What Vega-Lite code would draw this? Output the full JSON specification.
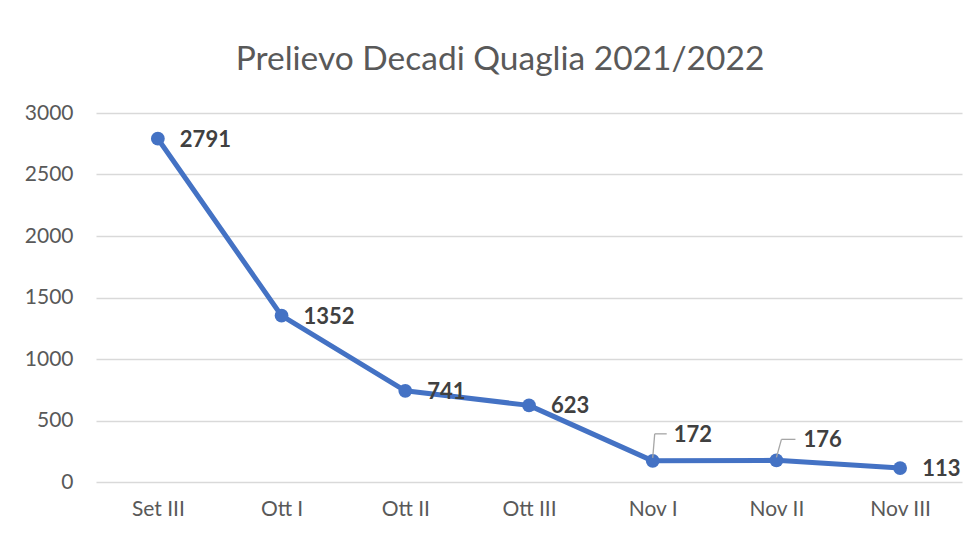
{
  "$schema": "https://vega.github.io/schema/vega-lite/v6.json",
  "width": 866,
  "height": 369,
  "autosize": "none",
  "padding": {"left": 96, "top": 113, "right": 16, "bottom": 57},
  "background": "white",
  "title": {
    "text": "Prelievo Decadi Quaglia 2021/2022",
    "font": "Lato",
    "fontSize": 33.5,
    "fontWeight": "normal",
    "color": "#595959",
    "anchor": "middle",
    "frame": "group",
    "baseline": "alphabetic",
    "offset": -1,
    "dx": -29
  },
  "config": {
    "view": {"stroke": null},
    "font": "Lato"
  },
  "data": {
    "values": [
      {"cat": "Set III", "v": 2791},
      {"cat": "Ott I", "v": 1352},
      {"cat": "Ott II", "v": 741},
      {"cat": "Ott III", "v": 623},
      {"cat": "Nov I", "v": 172},
      {"cat": "Nov II", "v": 176},
      {"cat": "Nov III", "v": 113}
    ]
  },
  "encoding": {
    "x": {
      "field": "cat",
      "type": "nominal",
      "sort": null,
      "scale": {"type": "point", "padding": 0.5},
      "axis": {
        "title": null,
        "labelAngle": 0,
        "domain": false,
        "ticks": false,
        "grid": false,
        "labelFont": "Lato",
        "labelFontSize": 21,
        "labelColor": "#595959",
        "labelPadding": 16
      }
    },
    "y": {
      "field": "v",
      "type": "quantitative",
      "scale": {"domain": [0, 3000], "nice": false},
      "axis": {
        "title": null,
        "format": "d",
        "values": [0, 500, 1000, 1500, 2000, 2500, 3000],
        "domain": false,
        "ticks": false,
        "grid": true,
        "gridColor": "#D9D9D9",
        "gridWidth": 1.3,
        "labelFont": "Lato",
        "labelFontSize": 21,
        "labelColor": "#595959",
        "labelPadding": 23
      }
    }
  },
  "layer": [
    {
      "mark": {"type": "line", "color": "#4472C4", "strokeWidth": 5, "strokeCap": "round", "strokeJoin": "round"}
    },
    {
      "mark": {"type": "point", "filled": true, "opacity": 1, "color": "#4472C4", "size": 190}
    },
    {
      "transform": [{"filter": "datum.cat != 'Nov I' && datum.cat != 'Nov II'"}],
      "mark": {"type": "text", "align": "left", "baseline": "middle", "dx": 22, "dy": 1, "font": "Lato", "fontSize": 22, "fontWeight": "bold", "color": "#404040"},
      "encoding": {"text": {"field": "v", "type": "quantitative"}}
    },
    {
      "transform": [{"filter": "datum.cat == 'Nov I'"}],
      "mark": {"type": "text", "align": "left", "baseline": "middle", "dx": 21, "dy": -26, "font": "Lato", "fontSize": 22, "fontWeight": "bold", "color": "#404040"},
      "encoding": {"text": {"field": "v", "type": "quantitative"}}
    },
    {
      "transform": [{"filter": "datum.cat == 'Nov II'"}],
      "mark": {"type": "text", "align": "left", "baseline": "middle", "dx": 27, "dy": -20, "font": "Lato", "fontSize": 22, "fontWeight": "bold", "color": "#404040"},
      "encoding": {"text": {"field": "v", "type": "quantitative"}}
    },
    {
      "transform": [{"filter": "datum.cat == 'Nov I'"}],
      "mark": {"type": "rule", "color": "#A6A6A6", "strokeWidth": 1.3, "yOffset": -3, "y2Offset": -27, "x2Offset": 2},
      "encoding": {"x2": {"field": "cat"}, "y2": {"field": "v"}}
    },
    {
      "transform": [{"filter": "datum.cat == 'Nov I'"}],
      "mark": {"type": "rule", "color": "#A6A6A6", "strokeWidth": 1.3, "xOffset": 2, "x2Offset": 14, "yOffset": -27, "y2Offset": -27},
      "encoding": {"x2": {"field": "cat"}, "y2": {"field": "v"}}
    },
    {
      "transform": [{"filter": "datum.cat == 'Nov II'"}],
      "mark": {"type": "rule", "color": "#A6A6A6", "strokeWidth": 1.3, "yOffset": -3, "y2Offset": -21, "x2Offset": 5},
      "encoding": {"x2": {"field": "cat"}, "y2": {"field": "v"}}
    },
    {
      "transform": [{"filter": "datum.cat == 'Nov II'"}],
      "mark": {"type": "rule", "color": "#A6A6A6", "strokeWidth": 1.3, "xOffset": 5, "x2Offset": 19, "yOffset": -21, "y2Offset": -21},
      "encoding": {"x2": {"field": "cat"}, "y2": {"field": "v"}}
    }
  ]
}
